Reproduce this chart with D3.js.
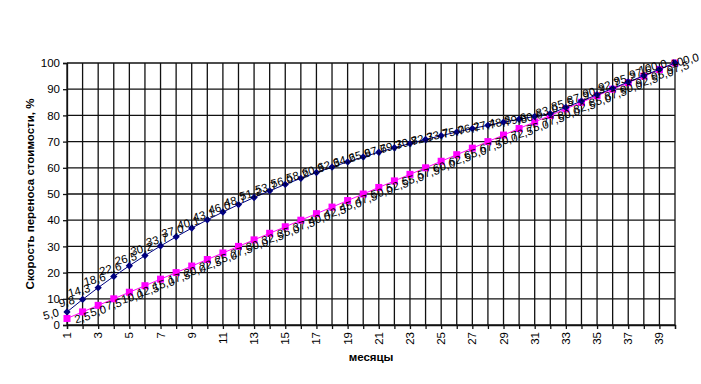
<!DOCTYPE html>
<html>
<head>
<meta charset="utf-8">
<script src="https://cdn.jsdelivr.net/npm/d3@7"></script>
<style>
body{margin:0;background:#fff;}
svg{display:block;font-family:Arial,"Liberation Sans",sans-serif;}
</style>
</head>
<body>
<svg id="c" width="701" height="384"></svg>
<script>
const months = d3.range(1, 41);
const seriesBlue = [5.00, 9.75, 14.26, 18.55, 22.62, 26.49, 30.17, 33.66, 36.98, 40.13,
  43.12, 45.96, 48.67, 51.23, 53.67, 55.99, 58.19, 60.28, 62.26, 64.15,
  65.94, 67.65, 69.26, 70.80, 72.26, 73.65, 74.97, 76.22, 77.41, 78.54,
  79.61, 80.63, 83.05, 85.48, 87.90, 90.32, 92.74, 95.16, 97.58, 100.00];
const seriesPink = [2.5, 5.0, 7.5, 10.0, 12.5, 15.0, 17.5, 20.0, 22.5, 25.0,
  27.5, 30.0, 32.5, 35.0, 37.5, 40.0, 42.5, 45.0, 47.5, 50.0,
  52.5, 55.0, 57.5, 60.0, 62.5, 65.0, 67.5, 70.0, 72.5, 75.0,
  77.5, 80.0, 82.5, 85.0, 87.5, 90.0, 92.5, 95.0, 97.5, 100.0];
const yTicks = [0, 10, 20, 30, 40, 50, 60, 70, 80, 90, 100];
const xTickLabels = months.filter(m => m % 2 === 1);
const yTitle = "Скорость переноса стоимости, %";
const xTitle = "месяцы";

const svg = d3.select("#c");
const L = 67, R = 675, T = 63, B = 325;
const x = d3.scaleLinear().domain([1, 40]).range([L, R]);
const y = d3.scaleLinear().domain([0, 100]).range([B, T]);
const fmt = v => d3.format(".1f")(v).replace(".", ",");

// grid
const g = svg.append("g");
g.selectAll("line.h").data(yTicks).join("line")
  .attr("x1", L).attr("x2", R).attr("y1", d => y(d)).attr("y2", d => y(d))
  .attr("stroke", "#111").attr("stroke-width", 1.3);
g.selectAll("line.v").data(months).join("line")
  .attr("y1", T).attr("y2", B).attr("x1", d => x(d)).attr("x2", d => x(d))
  .attr("stroke", "#111").attr("stroke-width", 1.3);

// axes
const xAxis = svg.append("g").attr("transform", `translate(0,${B})`)
  .call(d3.axisBottom(x).tickValues(months).tickSize(4).tickFormat(""));
xAxis.select(".domain").attr("stroke", "#111").attr("stroke-width", 1.3);
xAxis.selectAll(".tick line").attr("stroke", "#111").attr("stroke-width", 1.3);

svg.append("g").selectAll("text").data(xTickLabels).join("text")
  .attr("transform", d => `translate(${x(d) + 4},${B + 7}) rotate(-90)`)
  .attr("text-anchor", "end").attr("font-size", 11.5).attr("fill", "#000")
  .text(d => d);

const yAxis = svg.append("g").attr("transform", `translate(${L},0)`)
  .call(d3.axisLeft(y).tickValues(yTicks).tickSize(4).tickPadding(3));
yAxis.select(".domain").attr("stroke", "#111").attr("stroke-width", 1.3);
yAxis.selectAll(".tick line").attr("stroke", "#111").attr("stroke-width", 1.3);
yAxis.selectAll(".tick text").attr("font-size", 11.5).attr("fill", "#000")
  .attr("font-family", "Arial, 'Liberation Sans', sans-serif");

// titles
svg.append("text").attr("transform", `translate(34,${(T + B) / 2}) rotate(-90)`)
  .attr("text-anchor", "middle").attr("font-size", 11.5).attr("font-weight", "bold")
  .text(yTitle);
svg.append("text").attr("x", (L + R) / 2).attr("y", 361)
  .attr("text-anchor", "middle").attr("font-size", 11.5).attr("font-weight", "bold")
  .text(xTitle);

const line = d3.line().x((d, i) => x(months[i])).y(d => y(d));

// pink series
svg.append("path").datum(seriesPink).attr("d", line)
  .attr("fill", "none").attr("stroke", "#FF00FF").attr("stroke-width", 1);
svg.append("g").selectAll("rect").data(seriesPink).join("rect")
  .attr("x", (d, i) => x(months[i]) - 3.5).attr("y", d => y(d) - 3.5)
  .attr("width", 7).attr("height", 7).attr("fill", "#FF00FF");

// blue series
svg.append("path").datum(seriesBlue).attr("d", line)
  .attr("fill", "none").attr("stroke", "#000080").attr("stroke-width", 1);
svg.append("g").selectAll("path").data(seriesBlue).join("path")
  .attr("d", d3.symbol().type(d3.symbolDiamond2).size(34))
  .attr("transform", (d, i) => `translate(${x(months[i])},${y(d)})`)
  .attr("fill", "#000080");

// labels
const ang = -15, rad = ang * Math.PI / 180;
svg.append("g").selectAll("text").data(seriesBlue).join("text")
  .attr("transform", (d, i) => `translate(${x(months[i]) - 8},${y(d) + 1}) rotate(${ang})`)
  .attr("text-anchor", "end").attr("dominant-baseline", "middle")
  .attr("font-size", 11.5).attr("fill", "#000").text(d => fmt(d));
svg.append("g").selectAll("text").data(seriesPink).join("text")
  .attr("text-anchor", "start").attr("dominant-baseline", "middle")
  .attr("font-size", 11.5).attr("fill", "#000").text(d => fmt(d))
  .each(function(d, i) {
    const w = this.getComputedTextLength() * Math.cos(rad);
    const px = Math.min(x(months[i]) + 8, 699 - w);
    d3.select(this).attr("transform", `translate(${px},${y(d) + 2}) rotate(${ang})`);
  });
</script>
</body>
</html>
